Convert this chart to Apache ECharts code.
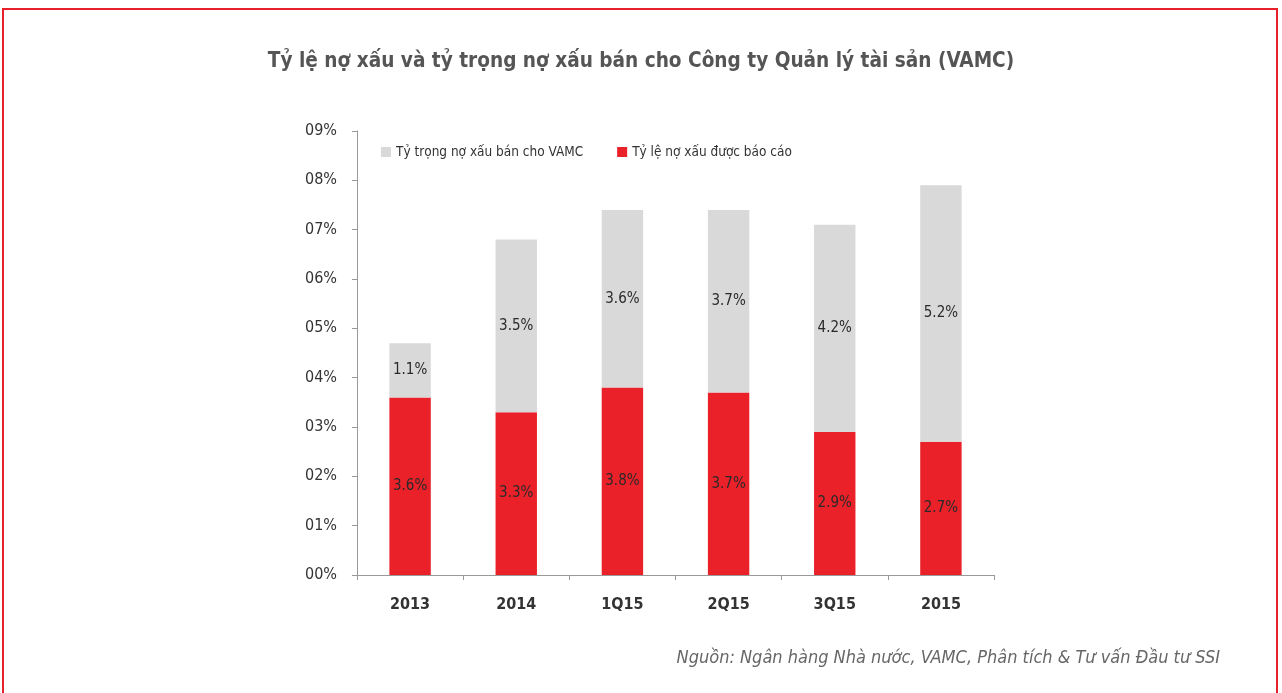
<!DOCTYPE html>
<html>
<head>
<meta charset="utf-8">
<script src="https://cdn.jsdelivr.net/npm/echarts@6/dist/echarts.min.js"></script>
<style>
	html,body{margin:0;padding:0;background:#fff;}
	#frame{position:absolute;left:2px;top:8px;width:1276px;height:700px;border:2px solid #e8202a;box-sizing:border-box;}
	#main{position:absolute;left:0;top:0;width:1282px;height:693px;}
</style>
</head>
<body>
<div id="frame"></div>
<div id="main"></div>
<script>
	var categories = ['2013','2014','1Q15','2Q15','3Q15','2015'];
	var reportedNpl = [3.6,3.3,3.8,3.7,2.9,2.7];
	var soldToVamc = [1.1,3.5,3.6,3.7,4.2,5.2];
	var yTicks = [0,1,2,3,4,5,6,7,8,9];
	var nameSold = 'Tỷ trọng nợ xấu bán cho VAMC';
	var nameNpl = 'Tỷ lệ nợ xấu được báo cáo';

	var font = '"Liberation Sans Narrow","DejaVu Sans Condensed",sans-serif';
	var labelStyle = {
		show:true,
		position:'inside',
		color:'#2a2a2a',
		fontFamily:font,
		fontSize:15,
		formatter:function(p){return p.value.toFixed(1)+'%';}
	};

	var myChart = echarts.init(document.getElementById('main'));
	var option = {
		animation:false,
		title:{
			text:'Tỷ lệ nợ xấu và tỷ trọng nợ xấu bán cho Công ty Quản lý tài sản (VAMC)',
			left:'center',
			top:46,
			textStyle:{fontFamily:font,fontSize:20.6,fontWeight:'bold',color:'#555'}
		},
		legend:{
			data:[nameSold,nameNpl],
			left:376,
			top:140,
			itemWidth:10,
			itemHeight:10,
			itemGap:34,
			icon:'rect',
			textStyle:{fontFamily:font,fontSize:13.5,color:'#333'}
		},
		grid:{left:357,right:288,top:131,bottom:118},
		xAxis:{
			type:'category',
			data:categories,
			axisLine:{lineStyle:{color:'#999'}},
			axisTick:{show:true,lineStyle:{color:'#999'}},
			axisLabel:{fontFamily:font,fontSize:16,fontWeight:'bold',color:'#333',margin:22}
		},
		yAxis:{
			type:'value',
			min:yTicks[0],
			max:yTicks[yTicks.length-1],
			interval:1,
			splitLine:{show:false},
			axisLine:{show:true,lineStyle:{color:'#999'}},
			axisTick:{show:true,lineStyle:{color:'#999'}},
			axisLabel:{fontFamily:font,fontSize:16,color:'#333',margin:20,
				formatter:function(v){return '0'+v+'%';}}
		},
		series:[
			{
				name:nameNpl,
				type:'bar',
				stack:'a',
				barWidth:'39%',
				data:reportedNpl,
				itemStyle:{color:'#ea2129'},
				label:labelStyle
			},
			{
				name:nameSold,
				type:'bar',
				stack:'a',
				barWidth:'39%',
				data:soldToVamc,
				itemStyle:{color:'#d9d9d9'},
				label:labelStyle
			}
		],
		graphic:[{
			type:'text',
			right:62,
			top:649,
			style:{
				text:'Nguồn: Ngân hàng Nhà nước, VAMC, Phân tích & Tư vấn Đầu tư SSI',
				fontFamily:font,
				fontStyle:'italic',
				fontSize:18,
				fill:'#666'
			}
		}]
	};
	myChart.setOption(option);
</script>
</body>
</html>
